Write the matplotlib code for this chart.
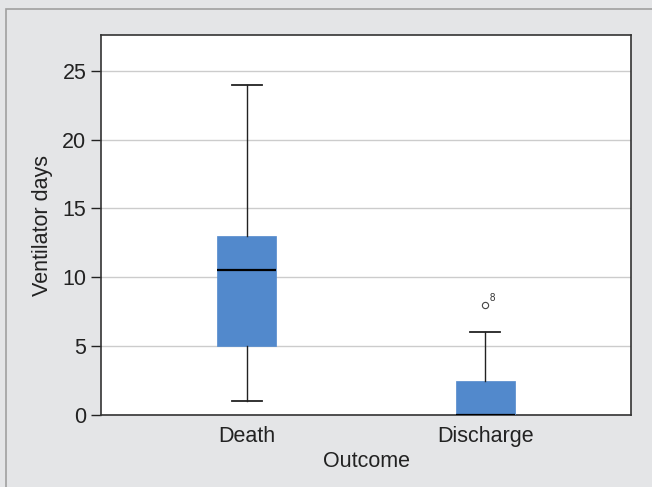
import matplotlib.pyplot as plt
from matplotlib.patches import Rectangle

plt.rcParams['font.family'] = ['Liberation Sans', 'DejaVu Sans']

# Dados das caixas
categorias = ["Death", "Discharge"]
minimos = [1, 0]
q1 = [5, 0]
medianas = [10.5, 0]
q3 = [13, 2.5]
maximos = [24, 6]
outliers = [[], [8]]
rotulos_outliers = [[], ["8"]]

cor_caixa = "#5289cc"
cor_fundo = "#e4e5e7"

fig = plt.figure(figsize=(6.52, 4.87), dpi=100, facecolor=cor_fundo)
# moldura cinza da figura
fig.patches.append(Rectangle((6 / 652, -0.1), 1.2, (487 - 9) / 487 + 0.1,
                             transform=fig.transFigure, fill=False,
                             edgecolor="#a0a0a0", linewidth=1.2))

ax = fig.add_axes([101 / 652, 1 - 415 / 487, 530 / 652, 380 / 487])

stats = []
for i, nome in enumerate(categorias):
    stats.append(dict(label=nome, whislo=minimos[i], q1=q1[i], med=medianas[i],
                      q3=q3[i], whishi=maximos[i], fliers=outliers[i]))

ax.bxp(stats, positions=[1, 2], widths=0.25, patch_artist=True,
       boxprops=dict(facecolor=cor_caixa, edgecolor=cor_caixa, linewidth=0.5),
       medianprops=dict(color="black", linewidth=1.6),
       whiskerprops=dict(color="#222222", linewidth=1),
       capprops=dict(color="#222222", linewidth=1.3),
       flierprops=dict(marker="o", markerfacecolor="none", markeredgecolor="#444444",
                       markersize=4.5, markeredgewidth=0.8),
       zorder=3)

# rótulo dos outliers
for i, (vals, rots) in enumerate(zip(outliers, rotulos_outliers)):
    for v, r in zip(vals, rots):
        ax.annotate(r, (i + 1, v), xytext=(3, 3), textcoords="offset points",
                    fontsize=7, color="#333333")

ax.set_xlim(0.39, 2.61)
ax.set_ylim(0, 27.6)
ax.set_yticks([0, 5, 10, 15, 20, 25])
ax.yaxis.grid(True, color="#cccccc", linewidth=1)
ax.set_axisbelow(True)
ax.tick_params(axis="y", labelsize=15.5, length=7, width=1, colors="#222222")
ax.tick_params(axis="x", labelsize=15.5, length=0, pad=8, colors="#222222")
ax.set_xlabel("Outcome", fontsize=15.5, color="#222222", labelpad=3)
ax.set_ylabel("Ventilator days", fontsize=15.5, color="#222222", labelpad=7)
for lado in ax.spines.values():
    lado.set_color("#333333")
    lado.set_linewidth(1.2)

fig.savefig("out.png", dpi=100, facecolor=cor_fundo)
